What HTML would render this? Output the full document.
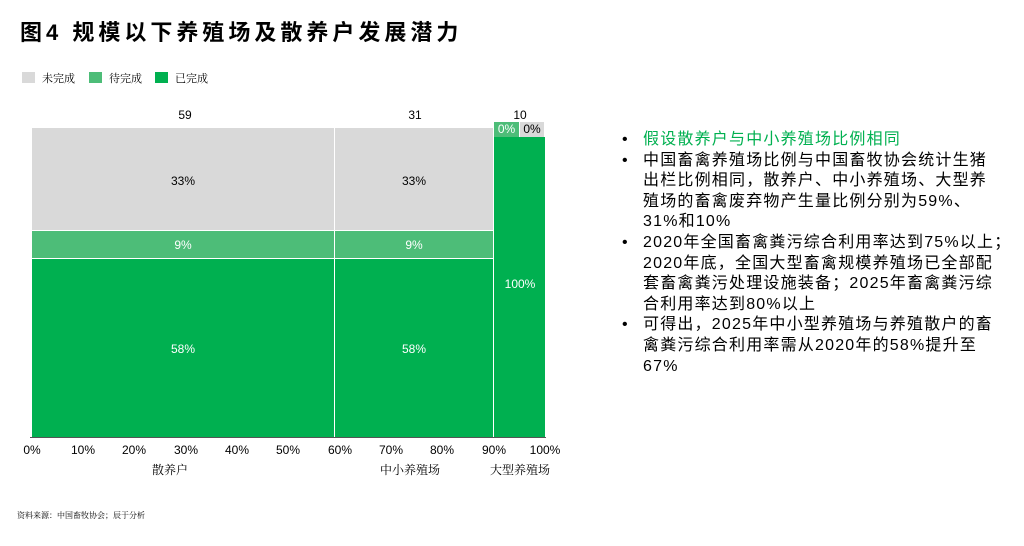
<!DOCTYPE html>
<html><head><meta charset="utf-8"><style>
body{margin:0;width:1024px;height:546px;background:#fff;position:relative;overflow:hidden;font-family:"Liberation Sans","Noto Sans CJK SC",sans-serif;color:#000}
.a{position:absolute;white-space:nowrap}
.r{position:absolute}
.c{position:absolute;font-size:12px;text-align:center;color:#000}
.w{color:#fff}
.tx{position:absolute;left:622px;top:130px;font-size:16px;line-height:20.6px;letter-spacing:1.2px}
.tx div{position:relative;padding-left:21px;white-space:nowrap}
.tx .b{position:absolute;left:0}
.s{font-family:"Noto Serif CJK SC","Liberation Serif",serif}
</style></head><body>
<div class="a" style="left:20px;top:15px;font-size:22px;font-weight:bold;letter-spacing:4px">图4 规模以下养殖场及散养户发展潜力</div>
<div class="r" style="left:22px;top:72px;width:13px;height:11px;background:#d9d9d9"></div>
<div class="a s" style="left:42px;top:70px;font-size:11px">未完成</div>
<div class="r" style="left:89px;top:72px;width:13px;height:11px;background:#4dbd78"></div>
<div class="a s" style="left:109px;top:70px;font-size:11px">待完成</div>
<div class="r" style="left:155px;top:72px;width:13px;height:11px;background:#00b050"></div>
<div class="a s" style="left:175px;top:70px;font-size:11px">已完成</div>

<div class="c" style="left:160px;top:108px;width:50px">59</div>
<div class="c" style="left:390px;top:108px;width:50px">31</div>
<div class="c" style="left:495px;top:108px;width:50px">10</div>

<div class="r" style="left:32px;top:128px;width:302px;height:102px;background:#d9d9d9"></div>
<div class="r" style="left:32px;top:231px;width:302px;height:27px;background:#4dbd78"></div>
<div class="r" style="left:32px;top:259px;width:302px;height:178px;background:#00b050"></div>
<div class="r" style="left:335px;top:128px;width:158px;height:102px;background:#d9d9d9"></div>
<div class="r" style="left:335px;top:231px;width:158px;height:27px;background:#4dbd78"></div>
<div class="r" style="left:335px;top:259px;width:158px;height:178px;background:#00b050"></div>
<div class="r" style="left:494px;top:137px;width:51px;height:300px;background:#00b050"></div>
<div class="r" style="left:494px;top:122px;width:25px;height:15px;background:#4dbd78"></div>
<div class="r" style="left:520px;top:122px;width:24px;height:15px;background:#d9d9d9"></div>
<div class="r" style="left:30px;top:437px;width:516px;height:1px;background:#555"></div>

<div class="c" style="left:158px;top:174px;width:50px">33%</div>
<div class="c w" style="left:158px;top:238px;width:50px">9%</div>
<div class="c w" style="left:158px;top:342px;width:50px">58%</div>
<div class="c" style="left:389px;top:174px;width:50px">33%</div>
<div class="c w" style="left:389px;top:238px;width:50px">9%</div>
<div class="c w" style="left:389px;top:342px;width:50px">58%</div>
<div class="c w" style="left:495px;top:277px;width:50px">100%</div>
<div class="c w" style="left:494px;top:122px;width:25px">0%</div>
<div class="c" style="left:520px;top:122px;width:24px">0%</div>

<div class="c" style="left:12px;top:443px;width:40px">0%</div>
<div class="c" style="left:63px;top:443px;width:40px">10%</div>
<div class="c" style="left:114px;top:443px;width:40px">20%</div>
<div class="c" style="left:166px;top:443px;width:40px">30%</div>
<div class="c" style="left:217px;top:443px;width:40px">40%</div>
<div class="c" style="left:268px;top:443px;width:40px">50%</div>
<div class="c" style="left:320px;top:443px;width:40px">60%</div>
<div class="c" style="left:371px;top:443px;width:40px">70%</div>
<div class="c" style="left:422px;top:443px;width:40px">80%</div>
<div class="c" style="left:474px;top:443px;width:40px">90%</div>
<div class="c" style="left:525px;top:443px;width:40px">100%</div>
<div class="c s" style="left:140px;top:461px;width:60px">散养户</div>
<div class="c s" style="left:370px;top:461px;width:80px">中小养殖场</div>
<div class="c s" style="left:480px;top:461px;width:80px">大型养殖场</div>
<div class="a s" style="left:17px;top:510px;font-size:8px">资料来源：中国畜牧协会；辰于分析</div>

<div class="tx">
<div style="color:#00b050"><span class="b" style="color:#000">•</span>假设散养户与中小养殖场比例相同</div>
<div><span class="b">•</span>中国畜禽养殖场比例与中国畜牧协会统计生猪<br>出栏比例相同，散养户、中小养殖场、大型养<br>殖场的畜禽废弃物产生量比例分别为59%、<br>31%和10%</div>
<div><span class="b">•</span>2020年全国畜禽粪污综合利用率达到75%以上；<br>2020年底，全国大型畜禽规模养殖场已全部配<br>套畜禽粪污处理设施装备；2025年畜禽粪污综<br>合利用率达到80%以上</div>
<div><span class="b">•</span>可得出，2025年中小型养殖场与养殖散户的畜<br>禽粪污综合利用率需从2020年的58%提升至<br>67%</div>
</div>
</body></html>
